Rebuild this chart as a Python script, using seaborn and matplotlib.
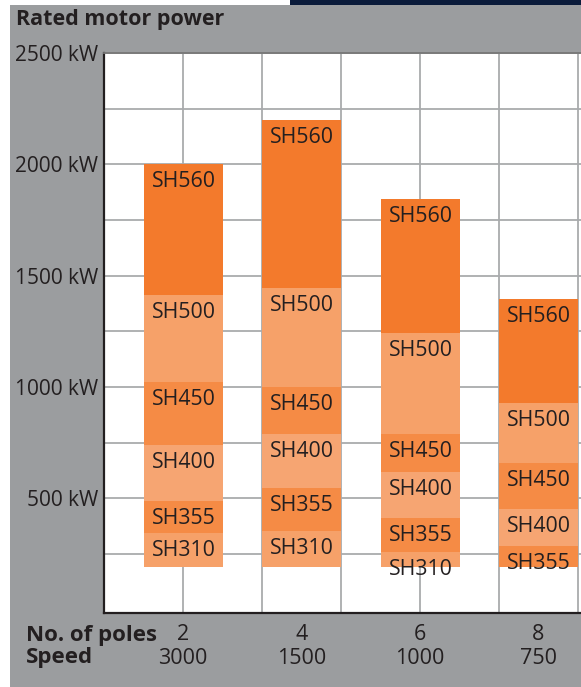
import numpy as np
import pandas as pd
import seaborn as sns
import matplotlib.pyplot as plt
from matplotlib.patches import Rectangle
from matplotlib.transforms import blended_transform_factory

sns.set_theme(style="white")
plt.rcParams['font.family'] = ['Open Sans', 'DejaVu Sans']

# data
poles = ["2", "4", "6", "8"]
speeds = ["3000", "1500", "1000", "750"]
frames = ["SH310", "SH355", "SH400", "SH450", "SH500", "SH560"]
# power range limits (kW) from bottom to top for each pole number
bounds_2p = [190, 343, 489, 740, 1020, 1413, 2000]
bounds_4p = [190, 354, 546, 790, 1000, 1445, 2200]
bounds_6p = [190, 258, 411, 618, 789, 1244, 1845]
bounds_8p = [190, 286, 451, 658, 928, 1395]   # no SH310 for 8 poles
yticks = [500, 1000, 1500, 2000, 2500]

bar_pos = [1.0, 2.5, 4.0, 5.5]
frame_colors = {"SH310": "#f6a169", "SH355": "#f58b45", "SH400": "#f6a572",
                "SH450": "#f58b45", "SH500": "#f6a169", "SH560": "#f37a2c"}
text_col = "#231f20"
bg_gray = "#9b9d9f"

# build a table of segments
rows = []
for pos, p, b in zip(bar_pos, poles, [bounds_2p, bounds_4p, bounds_6p, bounds_8p]):
    fr = frames[len(frames) - (len(b) - 1):]
    for i, f in enumerate(fr):
        rows.append(dict(pos=pos, poles=p, frame=f, low=b[i], high=b[i + 1]))
seg = pd.DataFrame(rows)
seg["height"] = seg["high"] - seg["low"]

fig = plt.figure(figsize=(5.81, 6.87), dpi=100)
fig.patch.set_facecolor("white")
fig.patches.append(Rectangle((10 / 581, 0), 1, 1 - 5 / 687, transform=fig.transFigure,
                             facecolor=bg_gray, edgecolor="none", zorder=-10))
fig.patches.append(Rectangle((290 / 581, 1 - 5 / 687), 1, 5 / 687, transform=fig.transFigure,
                             facecolor="#0b1c3b", edgecolor="none", zorder=-10))

ax = fig.add_axes([104 / 581, 74 / 687, 477 / 581, 560 / 687])
ax.set_facecolor("white")

for f in frames:
    d = seg[seg.frame == f].sort_values("pos")
    sns.barplot(x=d["pos"].values, y=d["height"].values, bottom=d["low"].values,
                native_scale=True, width=1 / 1.5, color=frame_colors[f], saturation=1,
                errorbar=None, linewidth=0, zorder=3, ax=ax)

for _, r in seg.iterrows():
    ax.annotate(r["frame"], xy=(r["pos"] - 0.5, r["high"]), xytext=(8, -7),
                textcoords="offset pixels", ha="left", va="top",
                fontsize=15.3, color=text_col, zorder=5)

ax.set_xlim(0, 477 / 79)
ax.set_ylim(-16, 2500)
ax.set_yticks(yticks)
ax.set_yticklabels([f"{v} kW" for v in yticks], fontsize=15, color=text_col)
ax.set_yticks(np.arange(250, 2500, 500), minor=True)
ax.set_xticks([])
ax.set_xticks(np.arange(1, 7), minor=True)
ax.tick_params(axis="both", which="both", length=0, pad=4)
ax.tick_params(axis="x", which="minor", labelbottom=False)
ax.grid(True, which="both", color="#a9abad", linewidth=1.3, zorder=0)
ax.set_axisbelow(True)
ax.set_xlabel("")
ax.set_ylabel("")

for s in ["left", "bottom"]:
    ax.spines[s].set_color("#231f20")
    ax.spines[s].set_linewidth(1.6)
ax.spines["top"].set_color("#777777")
ax.spines["top"].set_linewidth(1.3)
ax.spines["right"].set_visible(False)

# bottom axis labels
tr = blended_transform_factory(ax.transData, fig.transFigure)
for pos, p, s in zip(bar_pos, poles, speeds):
    ax.text(pos, 1 - 635 / 687, p, transform=tr, ha="center", va="center",
            fontsize=15.5, color=text_col, clip_on=False)
    ax.text(pos, 1 - 658 / 687, s, transform=tr, ha="center", va="center",
            fontsize=15.5, color=text_col, clip_on=False)
fig.text(26 / 581, 1 - 635 / 687, "No. of poles", ha="left", va="center",
         fontsize=16, fontweight="bold", color=text_col)
fig.text(26 / 581, 1 - 658 / 687, "Speed", ha="left", va="center",
         fontsize=16, fontweight="bold", color=text_col)

fig.text(16 / 581, 1 - 20 / 687, "Rated motor power", ha="left", va="center",
         fontsize=15.5, fontweight="bold", color=text_col)

fig.savefig("out.png", dpi=100)
